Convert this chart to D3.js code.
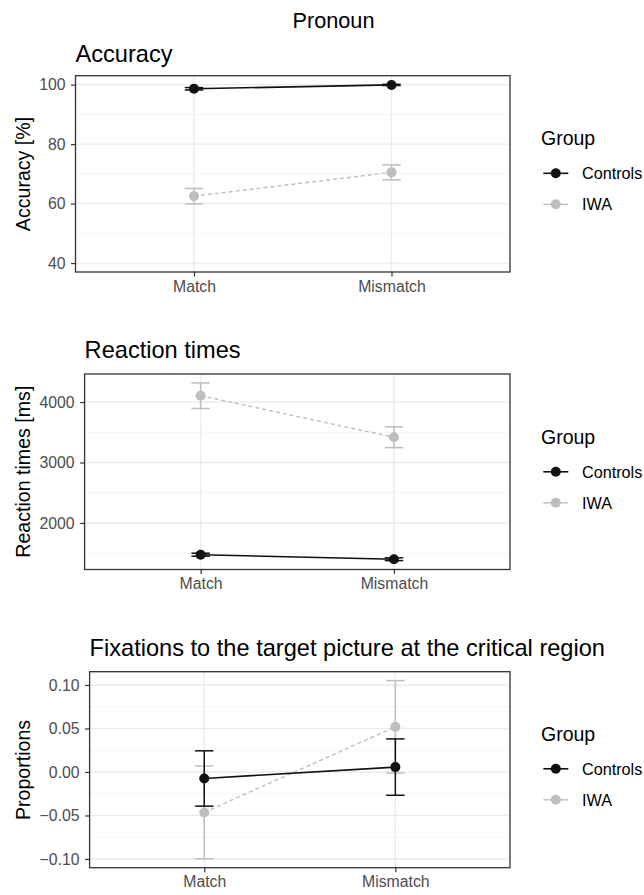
<!DOCTYPE html>
<html><head><meta charset="utf-8">
<script src="https://cdn.jsdelivr.net/npm/d3@7"></script>
<style>body{margin:0;background:#fff}svg{display:block;font-family:"Liberation Sans",Arial,Helvetica,sans-serif}</style>
</head><body><svg id="c" width="644" height="895"></svg>
<script>
const conditions = ["Match", "Mismatch"];
const groups = ["Controls", "IWA"];
const groupColors = ["#111111", "#bebebe"];

const accControlsMean = [98.6, 99.9];
const accControlsSE = [0.4, 0.2];
const accIWAMean = [62.5, 70.5];
const accIWASE = [2.6, 2.5];
const accTicks = [40, 60, 80, 100];
const accMinor = [50, 70, 90];

const rtControlsMean = [1475, 1400];
const rtControlsSE = [25, 23];
const rtIWAMean = [4105, 3418];
const rtIWASE = [212, 172];
const rtTicks = [2000, 3000, 4000];
const rtMinor = [1500, 2500, 3500];

const fixControlsMean = [-0.0075, 0.0056];
const fixControlsSE = [0.0318, 0.0324];
const fixIWAMean = [-0.0465, 0.0519];
const fixIWASE = [0.0533, 0.0531];
const fixTicks = [-0.10, -0.05, 0.00, 0.05, 0.10];
const fixMinor = [-0.075, -0.025, 0.025, 0.075];

const svg = d3.select("#c");
const FONT_TICK = 15.8;

svg.append("text").attr("x", 333.5).attr("y", 27.5).attr("text-anchor", "middle")
  .attr("font-size", 21.7).attr("fill", "#000").text("Pronoun");

const panels = [
  {title: "Accuracy", ytitle: "Accuracy [%]", box: [75.5, 75.7, 510, 272], titleY: 61.7, ytitleY: 174,
   limits: [40, 100], ticks: accTicks, minor: accMinor, fmt: d => d3.format("d")(d),
   series: [[accControlsMean, accControlsSE], [accIWAMean, accIWASE]], legendY: 145},
  {title: "Reaction times", ytitle: "Reaction times [ms]", box: [84.6, 374, 510, 569.5], titleY: 358.3, ytitleY: 471.7,
   limits: null, ticks: rtTicks, minor: rtMinor, fmt: d => d3.format("d")(d),
   series: [[rtControlsMean, rtControlsSE], [rtIWAMean, rtIWASE]], legendY: 443.5},
  {title: "Fixations to the target picture at the critical region", ytitle: "Proportions", box: [89.6, 671.7, 510, 867.7], titleY: 655.7, ytitleY: 770,
   limits: null, ticks: fixTicks, minor: fixMinor, fmt: d => d3.format(".2f")(d).replace("-", "\u2212"),
   series: [[fixControlsMean, fixControlsSE], [fixIWAMean, fixIWASE]], legendY: 740.5}
];

panels.forEach(p => {
  const [L, T, R, B] = p.box;
  let lo, hi;
  if (p.limits) { [lo, hi] = p.limits; }
  else {
    const vals = [];
    p.series.forEach(([m, s]) => m.forEach((v, i) => { vals.push(v - s[i], v + s[i]); }));
    lo = d3.min(vals); hi = d3.max(vals);
  }
  const pad = (hi - lo) * 0.05;
  const y = d3.scaleLinear().domain([lo - pad, hi + pad]).range([B, T]);
  const x = d3.scalePoint().domain(conditions).range([L, R]).padding(0.6);
  const g = svg.append("g");

  // grid
  g.selectAll(".mn").data(p.minor).join("line")
    .attr("x1", L).attr("x2", R).attr("y1", d => y(d)).attr("y2", d => y(d))
    .attr("stroke", "#f3f3f3").attr("stroke-width", 0.8);
  g.selectAll(".mj").data(p.ticks).join("line")
    .attr("x1", L).attr("x2", R).attr("y1", d => y(d)).attr("y2", d => y(d))
    .attr("stroke", "#ebebeb").attr("stroke-width", 1.4);
  g.selectAll(".vx").data(conditions).join("line")
    .attr("x1", d => x(d)).attr("x2", d => x(d)).attr("y1", T).attr("y2", B)
    .attr("stroke", "#ebebeb").attr("stroke-width", 1.4);

  // series: IWA first (drawn under), then Controls
  [1, 0].forEach(gi => {
    const [m, s] = p.series[gi];
    const col = groupColors[gi];
    const pts = conditions.map((c, i) => ({c, m: m[i], s: s[i]}));
    g.append("path").datum(pts)
      .attr("d", d3.line().x(d => x(d.c)).y(d => y(d.m)))
      .attr("fill", "none").attr("stroke", col).attr("stroke-width", gi === 0 ? 1.6 : 1.4)
      .attr("stroke-dasharray", gi === 0 ? null : "4,3");
    const eb = g.append("g").attr("stroke", col).attr("stroke-width", 1.5);
    pts.forEach(d => {
      eb.append("line").attr("x1", x(d.c)).attr("x2", x(d.c)).attr("y1", y(d.m - d.s)).attr("y2", y(d.m + d.s));
      eb.append("line").attr("x1", x(d.c) - 9.2).attr("x2", x(d.c) + 9.2).attr("y1", y(d.m - d.s)).attr("y2", y(d.m - d.s));
      eb.append("line").attr("x1", x(d.c) - 9.2).attr("x2", x(d.c) + 9.2).attr("y1", y(d.m + d.s)).attr("y2", y(d.m + d.s));
    });
    g.selectAll(null).data(pts).join("circle")
      .attr("cx", d => x(d.c)).attr("cy", d => y(d.m)).attr("r", 5).attr("fill", col);
  });

  // border
  g.append("rect").attr("x", L).attr("y", T).attr("width", R - L).attr("height", B - T)
    .attr("fill", "none").attr("stroke", "#333").attr("stroke-width", 1.3);

  // axes
  const ya = g.append("g").attr("transform", `translate(${L},0)`)
    .call(d3.axisLeft(y).tickValues(p.ticks).tickFormat(p.fmt).tickSize(4.5).tickPadding(5.5));
  const xa = g.append("g").attr("transform", `translate(0,${B})`)
    .call(d3.axisBottom(x).tickSize(4.5).tickPadding(4));
  [ya, xa].forEach(a => {
    a.select(".domain").remove();
    a.selectAll(".tick line").attr("stroke", "#333").attr("stroke-width", 1.2);
    a.selectAll(".tick text").attr("fill", "#4d4d4d").attr("font-size", FONT_TICK)
      .attr("font-family", "Liberation Sans, Arial, sans-serif");
  });

  // titles
  svg.append("text").attr("x", L).attr("y", p.titleY).attr("font-size", 23.6).attr("fill", "#000").text(p.title);
  svg.append("text").attr("transform", `translate(29.8,${p.ytitleY}) rotate(-90)`)
    .attr("text-anchor", "middle").attr("font-size", 19.6).attr("fill", "#000").text(p.ytitle);

  // legend
  const lg = svg.append("g");
  lg.append("text").attr("x", 541).attr("y", p.legendY).attr("font-size", 19.5).attr("fill", "#000").text("Group");
  groups.forEach((gr, i) => {
    const cy = p.legendY + 28.3 + i * 31;
    lg.append("line").attr("x1", 543.3).attr("x2", 568.3).attr("y1", cy).attr("y2", cy)
      .attr("stroke", groupColors[i]).attr("stroke-width", i === 0 ? 1.6 : 1.4);
    lg.append("circle").attr("cx", 555.8).attr("cy", cy).attr("r", 5).attr("fill", groupColors[i]);
    lg.append("text").attr("x", 582).attr("y", cy + 5.7).attr("font-size", 16.2).attr("fill", "#000").text(gr);
  });
});
</script></body></html>
